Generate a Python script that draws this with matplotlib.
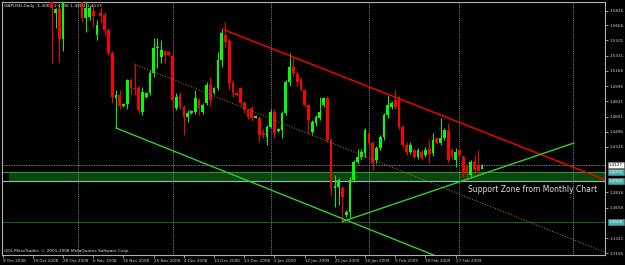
import numpy as np
import matplotlib
matplotlib.use('Agg')
import matplotlib.pyplot as plt
import matplotlib.transforms as mtransforms

# bar index 0 = 9 Oct 2008, one bar per trading day (Sunday bars included)
first_bar = 13
open_ = [1.6200, 1.5803, 1.5848, 1.5517, 1.6200, 1.6500, 1.6400, 1.6150, 1.6120, 1.5748,
         1.5759, 1.5826, 1.5561, 1.5804, 1.5781, 1.5616, 1.5362, 1.4866, 1.4899, 1.4780,
         1.4800, 1.5060, 1.4980, 1.4976, 1.4711, 1.4877, 1.4921, 1.5142, 1.5417, 1.5318,
         1.5384, 1.5373, 1.5329, 1.4755, 1.4899, 1.4766, 1.4656, 1.4700, 1.4711, 1.4844,
         1.4711, 1.4811, 1.5009, 1.4921, 1.4976, 1.5285, 1.5561, 1.5495, 1.5031, 1.4921,
         1.4976, 1.4811, 1.4733, 1.4755, 1.4645, 1.4645, 1.4480, 1.4436, 1.4546, 1.4711,
         1.4500, 1.4513, 1.4700, 1.5042, 1.5208, 1.5131, 1.5075, 1.4954, 1.4789, 1.4491,
         1.4590, 1.4645, 1.4789, 1.4866, 1.4403, 1.3873, 1.3880, 1.3873, 1.3575, 1.3608,
         1.3961, 1.4160, 1.4215, 1.4259, 1.4480, 1.4369, 1.4182, 1.4314, 1.4436, 1.4678,
         1.4766, 1.4844, 1.4866, 1.4546, 1.4347, 1.4270, 1.4292, 1.4215, 1.4270, 1.4237,
         1.4300, 1.4259, 1.4425, 1.4369, 1.4425, 1.4513, 1.4292, 1.4182, 1.4292, 1.4215,
         1.4105, 1.4016, 1.4160, 1.4116, 1.4087]
high_ = [1.6250, 1.5859, 1.5892, 1.6250, 1.6600, 1.6700, 1.6500, 1.6180, 1.6150, 1.5925,
         1.5892, 1.5892, 1.5727, 1.5870, 1.5815, 1.5638, 1.5384, 1.4954, 1.4950, 1.4810,
         1.5080, 1.5090, 1.5241, 1.5000, 1.4990, 1.4930, 1.5175, 1.5528, 1.5528, 1.5506,
         1.5400, 1.5380, 1.5350, 1.4920, 1.4930, 1.4790, 1.4730, 1.4730, 1.4954, 1.4870,
         1.4810, 1.5040, 1.5097, 1.4990, 1.5373, 1.5627, 1.5704, 1.5520, 1.5060, 1.4930,
         1.4990, 1.4830, 1.4760, 1.4780, 1.4680, 1.4670, 1.4520, 1.4570, 1.4740, 1.4740,
         1.4530, 1.4720, 1.5060, 1.5362, 1.5318, 1.5160, 1.5090, 1.4970, 1.4800, 1.4620,
         1.4680, 1.4877, 1.4880, 1.4890, 1.4420, 1.4016, 1.3980, 1.3890, 1.3630, 1.3990,
         1.4180, 1.4300, 1.4300, 1.4540, 1.4500, 1.4390, 1.4340, 1.4460, 1.4700, 1.4899,
         1.4830, 1.4954, 1.4890, 1.4570, 1.4380, 1.4380, 1.4300, 1.4310, 1.4290, 1.4320,
         1.4403, 1.4480, 1.4440, 1.4645, 1.4540, 1.4590, 1.4310, 1.4310, 1.4300, 1.4240,
         1.4130, 1.4180, 1.4237, 1.4292, 1.4136]
low_ = [1.5252, 1.5638, 1.5263, 1.5384, 1.6100, 1.6200, 1.6050, 1.6080, 1.5704, 1.5594,
        1.5727, 1.5650, 1.5506, 1.5704, 1.5561, 1.5340, 1.4811, 1.4535, 1.4740, 1.4770,
        1.4750, 1.4900, 1.4900, 1.4700, 1.4680, 1.4866, 1.4900, 1.5100, 1.5200, 1.5252,
        1.5252, 1.5330, 1.4755, 1.4730, 1.4740, 1.4458, 1.4601, 1.4690, 1.4690, 1.4678,
        1.4690, 1.4790, 1.4780, 1.4910, 1.4950, 1.5208, 1.5420, 1.4954, 1.4880, 1.4890,
        1.4790, 1.4700, 1.4630, 1.4610, 1.4640, 1.4380, 1.4420, 1.4347, 1.4530, 1.4425,
        1.4490, 1.4425, 1.4680, 1.5000, 1.5100, 1.5000, 1.4940, 1.4770, 1.4480, 1.4470,
        1.4560, 1.4620, 1.4770, 1.4380, 1.3796, 1.3663, 1.3685, 1.3503, 1.3553, 1.3540,
        1.3940, 1.4140, 1.4190, 1.4220, 1.4350, 1.4071, 1.4150, 1.4290, 1.4400, 1.4650,
        1.4750, 1.4740, 1.4520, 1.4320, 1.4240, 1.4250, 1.4200, 1.4190, 1.4180, 1.4220,
        1.4149, 1.4230, 1.4360, 1.4350, 1.4400, 1.4160, 1.4190, 1.4105, 1.4220, 1.3994,
        1.3961, 1.3990, 1.4050, 1.4038, 1.4084]
close_ = [1.5860, 1.5848, 1.5517, 1.6200, 1.6500, 1.6400, 1.6150, 1.6120, 1.5748, 1.5859,
          1.5859, 1.5771, 1.5671, 1.5771, 1.5616, 1.5362, 1.4877, 1.4899, 1.4780, 1.4800,
          1.5060, 1.4980, 1.4960, 1.4733, 1.4932, 1.4921, 1.5142, 1.5417, 1.5430, 1.5395,
          1.5340, 1.5340, 1.4844, 1.4877, 1.4766, 1.4656, 1.4700, 1.4720, 1.4866, 1.4755,
          1.4789, 1.5009, 1.4844, 1.4976, 1.5285, 1.5583, 1.5484, 1.5031, 1.4921, 1.4900,
          1.4811, 1.4733, 1.4656, 1.4645, 1.4670, 1.4458, 1.4458, 1.4546, 1.4711, 1.4480,
          1.4520, 1.4700, 1.5042, 1.5208, 1.5142, 1.5042, 1.4954, 1.4789, 1.4623, 1.4601,
          1.4656, 1.4711, 1.4866, 1.4403, 1.3873, 1.3900, 1.3960, 1.3774, 1.3608, 1.3961,
          1.4160, 1.4215, 1.4270, 1.4513, 1.4369, 1.4149, 1.4314, 1.4436, 1.4678, 1.4789,
          1.4811, 1.4766, 1.4546, 1.4347, 1.4270, 1.4347, 1.4215, 1.4292, 1.4204, 1.4292,
          1.4250, 1.4403, 1.4369, 1.4425, 1.4513, 1.4182, 1.4215, 1.4270, 1.4237, 1.4038,
          1.4038, 1.4160, 1.4071, 1.4060, 1.4127]

date_ticks = [0, 8, 16, 24, 32, 40, 48, 56, 64, 72, 80, 88, 96, 104, 112, 120]
date_labels = ['9 Oct 2008', '19 Oct 2008', '28 Oct 2008', '6 Nov 2008', '16 Nov 2008',
               '25 Nov 2008', '4 Dec 2008', '14 Dec 2008', '23 Dec 2008', '2 Jan 2009',
               '12 Jan 2009', '21 Jan 2009', '30 Jan 2009', '9 Feb 2009', '18 Feb 2009',
               '27 Feb 2009']
month_starts = [20, 45, 71, 97, 121, 151]
price_ticks = [1.5826, 1.5666, 1.5501, 1.5331, 1.5166, 1.4996, 1.4831, 1.4661, 1.4496,
               1.4326, 1.3826, 1.3656, 1.3321, 1.3156]

bid = 1.4127
zone_top, zone_bottom = 1.4050, 1.3950
monthly_support = 1.3500
zone_start = 1.7
# trend lines: (bar, price) anchors
red_line = [(58.1, 1.5627), (105.2, 1.4855)]
green_down = [(30.0, 1.4535), (64.7, 1.3957)]
mid_dotted = [(34.8, 1.5241), (69.5, 1.4663)]
green_up = [(90.0, 1.3503), (151.3, 1.4369)]

x_left, x_right = -0.185, 159.55
y_bottom, y_top = 1.3134, 1.5925

fig = plt.figure(figsize=(6.25, 2.65), dpi=100, facecolor='black')
ax = fig.add_axes([2 / 625, 10 / 265, 603 / 625, 253 / 265])
ax.set_facecolor('black')
ax.set_xlim(x_left, x_right)
ax.set_ylim(y_bottom, y_top)

# zone + horizontal levels
ax.fill_between([zone_start, x_right], zone_bottom, zone_top, color='#0b460b', lw=0, zorder=1)
ax.axhline(zone_top, color='#3c8c3c', lw=0.8, zorder=2)
ax.axhline(zone_bottom, color='#7fc8c8', lw=0.8, zorder=2)
ax.axhline(monthly_support, color='#2a8a2a', lw=0.9, ls=(0, (1, 0.6)), zorder=2)
ax.axhline(bid, color='#a0a0a0', lw=0.6, ls=(0, (1, 1)), zorder=2)
for m in month_starts:
    ax.axvline(m, color='#a0a0a0', lw=0.6, ls=(0, (1, 1.2)), zorder=2)

# candles
k = np.arange(first_bar, first_bar + len(open_))
o = np.array(open_); h = np.array(high_); l = np.array(low_); c = np.array(close_)
cols = np.where(c >= o, '#00ff00', '#ff0000')
ax.vlines(k, l, h, colors=cols, lw=0.7, zorder=3)
body = np.maximum(np.abs(c - o), 0.0004)
ax.bar(k, body, bottom=np.minimum(o, c), width=0.72, color=cols, lw=0, zorder=4)


def ray(pts, x_end):
    (x0, y0), (x1, y1) = pts
    s = (y1 - y0) / (x1 - x0)
    return [x0, x_end], [y0, y0 + s * (x_end - x0)]


xs, ys = ray(red_line, x_right)
ax.plot(xs, ys, color='#ff0000', lw=1.0, zorder=5)
xs, ys = ray(green_down, x_right)
ax.plot(xs, ys, color='#32cd32', lw=1.0, zorder=5)
xs, ys = ray(mid_dotted, x_right)
ax.plot(xs, ys, color='#9a6a1a', lw=0.8, ls=(0, (1, 1.5)), zorder=5)
ax.plot([p[0] for p in green_up], [p[1] for p in green_up], color='#32cd32', lw=1.0, zorder=5)

ax.text(123.3, 1.3862, 'Support Zone from Monthly Chart', color='#e0e0e0', fontsize=5.5,
        va='center', ha='left', zorder=6)
ax.text(0.004, 0.992, 'GBPUSD,Daily  1.4087 1.4136 1.4084 1.4127', transform=ax.transAxes,
        color='#e0e0e0', fontsize=3.2, va='top', ha='left')
ax.text(0.004, 0.008, 'ODL MetaTrader, \u00a9 2001-2008 MetaQuotes Software Corp.',
        transform=ax.transAxes, color='#e0e0e0', fontsize=3.1, va='bottom', ha='left')

# axes styling
for sp in ax.spines.values():
    sp.set_color('#b0b0b0')
    sp.set_linewidth(0.8)
ax.yaxis.tick_right()
ax.set_yticks(price_ticks)
ax.set_yticklabels(['%.4f' % p for p in price_ticks])
ax.set_xticks(date_ticks)
ax.set_xticklabels(date_labels, ha='left')
ax.tick_params(axis='both', colors='#d0d0d0', labelsize=3.0, length=2, width=0.5, pad=1)

tr = mtransforms.blended_transform_factory(ax.transAxes, ax.transData)
boxes = [(bid, 'white', 'black'), (zone_top, '#46b4b4', '#f0ffff'),
         (zone_bottom, '#46b4b4', '#f0ffff'), (monthly_support, '#46b4b4', '#f0ffff')]
for val, fc, tc in boxes:
    ax.text(1.006, val, '%.4f' % val, transform=tr, color=tc, fontsize=3.0, va='center',
            ha='left', bbox=dict(boxstyle='square,pad=0.25', fc=fc, ec='#808080', lw=0.4),
            zorder=7, clip_on=False)

fig.savefig('out.png', dpi=100, facecolor='black')
